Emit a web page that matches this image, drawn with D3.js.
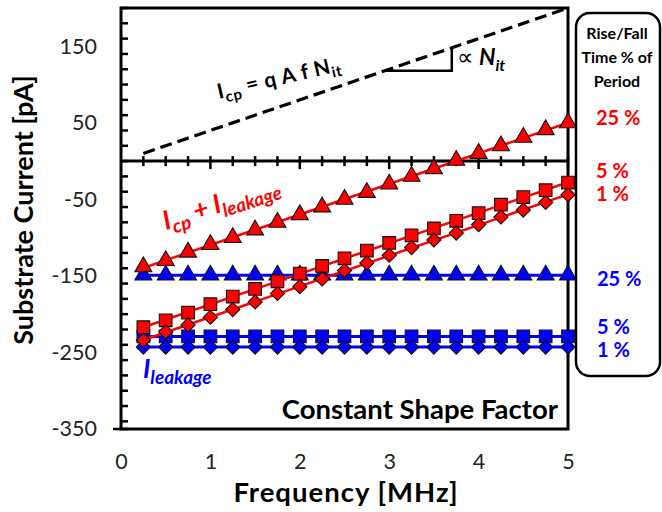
<!DOCTYPE html>
<html>
<head>
<meta charset="utf-8">
<script src="https://cdn.jsdelivr.net/npm/d3@7"></script>
<style>
  body { margin: 0; background: #fff; }
  svg { display: block; font-family: Lato, "Open Sans", sans-serif; }
</style>
</head>
<body>
<svg id="chart" width="662" height="512"></svg>
<script>
// frequencies in MHz
var freq = [0.25, 0.5, 0.75, 1, 1.25, 1.5, 1.75, 2, 2.25, 2.5, 2.75, 3, 3.25, 3.5, 3.75, 4, 4.25, 4.5, 4.75, 5];

// Icp + Ileakage (red), by rise/fall time % of period
var red25 = [-138, -130, -119, -109, -100, -90, -80, -70, -60, -50, -41, -30, -20, -10, 1, 10, 20, 31, 41, 50];
var red5 = [-217, -208, -198, -187, -177, -167, -157, -147, -137, -127, -117, -107, -97, -88, -78, -68, -57, -47, -38, -28];
var red1 = [-234, -223, -214, -204, -194, -184, -173, -164, -154, -143, -133, -123, -113, -103, -94, -83, -73, -64, -54, -44];

// Ileakage only (blue)
var blue25 = [-149, -149, -149, -149, -149, -149, -149, -149, -149, -149, -149, -149, -149, -149, -149, -149, -149, -149, -149, -149];
var blue5 = [-229, -229, -229, -229, -229, -229, -229, -229, -229, -229, -229, -229, -229, -229, -229, -229, -229, -229, -229, -229];
var blue1 = [-243, -243, -243, -243, -243, -243, -243, -243, -243, -243, -243, -243, -243, -243, -243, -243, -243, -243, -243, -243];

// ideal Icp line (dashed)
var icpFreq = [0.25, 5];
var icpVal = [10, 200];

var xTickLabels = [0, 1, 2, 3, 4, 5];
var yTickLabels = [150, 50, -50, -150, -250, -350];
var legendTitle = ["Rise/Fall", "Time % of", "Period"];
var legendRed = ["25 %", "5 %", "1 %"];
var legendBlue = ["25 %", "5 %", "1 %"];

var RED = "#ff0000", BLUE = "#0000ff";

var svg = d3.select("#chart");
var x = d3.scaleLinear().domain([0, 5]).range([121, 568]);
var y = d3.scaleLinear().domain([-350, 200]).range([429, 8]);

// frame
svg.append("rect")
  .attr("x", x(0)).attr("y", y(200))
  .attr("width", x(5) - x(0)).attr("height", y(-350) - y(200))
  .attr("fill", "none").attr("stroke", "#000").attr("stroke-width", 3);

// y tick marks, every 20 with majors on the labels
var yTicks = d3.range(-350, 200, 20).map(function(v) { return v + 10; }).concat([-350]);
svg.append("g").selectAll("line")
  .data(yTicks)
  .join("line")
    .attr("x1", function(d) { return yTickLabels.indexOf(d) >= 0 ? x(0) - 8 : x(0); })
    .attr("x2", x(0) + 7)
    .attr("y1", function(d) { return y(d); })
    .attr("y2", function(d) { return y(d); })
    .attr("stroke", "#000").attr("stroke-width", 2.5);

// zero line with ticks every 0.25 MHz
svg.append("line")
  .attr("x1", x(0)).attr("x2", x(5))
  .attr("y1", y(0)).attr("y2", y(0))
  .attr("stroke", "#000").attr("stroke-width", 3);
svg.append("g").selectAll("line")
  .data(freq)
  .join("line")
    .attr("x1", function(d) { return x(d); })
    .attr("x2", function(d) { return x(d); })
    .attr("y1", y(0) - 5)
    .attr("y2", function(d) { return d % 1 === 0 ? y(0) + 8 : y(0) + 5; })
    .attr("stroke", "#000").attr("stroke-width", 2.5);

// tick labels through d3 axes
var xAxis = svg.append("g")
  .attr("transform", "translate(0," + y(-350) + ")")
  .call(d3.axisBottom(x).tickValues(xTickLabels).tickSize(0).tickPadding(25)
    .tickFormat(function(d) { return String(d); }));
var yAxis = svg.append("g")
  .attr("transform", "translate(" + x(0) + ",0)")
  .call(d3.axisLeft(y).tickValues(yTickLabels).tickSize(0).tickPadding(24)
    .tickFormat(function(d) { return String(d); }));
[xAxis, yAxis].forEach(function(a) {
  a.select(".domain").remove();
  a.selectAll("text").attr("font-family", "Lato, sans-serif").attr("font-size", 21.5).attr("fill", "#222");
});

// axis titles
svg.append("text")
  .attr("x", 346).attr("y", 502)
  .attr("text-anchor", "middle")
  .attr("font-size", 27.5).attr("font-weight", "bold").attr("letter-spacing", 1)
  .text("Frequency [MHz]");
svg.append("text")
  .attr("transform", "translate(33,210) rotate(-90)")
  .attr("text-anchor", "middle")
  .attr("font-size", 27).attr("font-weight", "bold")
  .text("Substrate Current [pA]");

// dashed Icp line
svg.append("path")
  .datum(d3.zip(icpFreq, icpVal))
  .attr("d", d3.line().x(function(d) { return x(d[0]); }).y(function(d) { return y(d[1]); }))
  .attr("fill", "none").attr("stroke", "#000").attr("stroke-width", 3.2)
  .attr("stroke-dasharray", "12,6");

// slope triangle under the dashed line
var slopeX = [2.95, 3.7];
var icpAt = d3.scaleLinear().domain(icpFreq).range(icpVal);
svg.append("path")
  .attr("d", "M" + x(slopeX[0]) + "," + y(icpAt(slopeX[0])) +
    "H" + x(slopeX[1]) + "V" + y(icpAt(slopeX[1])))
  .attr("fill", "none").attr("stroke", "#000").attr("stroke-width", 2.5);

// series helpers
function fitLine(vals) {
  var mx = d3.mean(freq), my = d3.mean(vals);
  var num = d3.sum(freq, function(f, i) { return (f - mx) * (vals[i] - my); });
  var den = d3.sum(freq, function(f) { return (f - mx) * (f - mx); });
  var b = num / den, a = my - b * mx;
  var f0 = freq[0], f1 = freq[freq.length - 1];
  return [[f0, a + b * f0], [f1, a + b * f1]];
}

var shapes = {
  tri: { type: d3.symbolTriangle, size: 125, rot: 0 },
  sq: { type: d3.symbolSquare, size: 160, rot: 0 },
  dia: { type: d3.symbolSquare, size: 100, rot: 45 }
};

function drawSeries(vals, color, shape, lineWidth) {
  var g = svg.append("g");
  g.append("path")
    .datum(fitLine(vals))
    .attr("d", d3.line().x(function(d) { return x(d[0]); }).y(function(d) { return y(d[1]); }))
    .attr("fill", "none").attr("stroke", color).attr("stroke-width", lineWidth);
  var s = shapes[shape];
  g.selectAll("path.mk")
    .data(d3.zip(freq, vals))
    .join("path")
      .attr("class", "mk")
      .attr("transform", function(d) {
        return "translate(" + x(d[0]) + "," + y(d[1]) + ") rotate(" + s.rot + ")";
      })
      .attr("d", d3.symbol().type(s.type).size(s.size))
      .attr("fill", color).attr("stroke", "#111").attr("stroke-width", 1.1);
}

drawSeries(blue25, BLUE, "tri", 3);
drawSeries(blue5, BLUE, "sq", 3);
drawSeries(blue1, BLUE, "dia", 3);
drawSeries(red25, RED, "tri", 2.5);
drawSeries(red5, RED, "sq", 2.5);
drawSeries(red1, RED, "dia", 2.5);

// annotations
var eq = svg.append("text")
  .attr("transform", "translate(219,99) rotate(-13)")
  .attr("font-size", 21).attr("font-weight", "bold").attr("fill", "#000")
  .attr("letter-spacing", 0.6);
eq.append("tspan").text("I");
eq.append("tspan").attr("font-size", 15).attr("dy", 5).text("cp");
eq.append("tspan").attr("dy", -5).text(" = q A f N");
eq.append("tspan").attr("font-size", 15).attr("dy", 5).text("it");

var prop = svg.append("text")
  .attr("x", 457).attr("y", 65)
  .attr("font-size", 23).attr("fill", "#000");
prop.append("tspan").text("\u221d ");
prop.append("tspan").attr("font-weight", "bold").attr("font-style", "italic").text("N");
prop.append("tspan").attr("font-weight", "bold").attr("font-style", "italic")
  .attr("font-size", 16).attr("dy", 6).text("it");

var rl = svg.append("text")
  .attr("transform", "translate(166,230) rotate(-18)")
  .attr("font-size", 26).attr("font-weight", "bold").attr("font-style", "italic").attr("fill", RED);
rl.append("tspan").text("I");
rl.append("tspan").attr("font-size", 19).attr("dy", 6).text("cp");
rl.append("tspan").attr("dy", -6).text(" + I");
rl.append("tspan").attr("font-size", 19).attr("dy", 6).text("leakage");

var bl = svg.append("text")
  .attr("x", 143).attr("y", 378)
  .attr("font-size", 26).attr("font-weight", "bold").attr("font-style", "italic").attr("fill", BLUE);
bl.append("tspan").text("I");
bl.append("tspan").attr("font-size", 19).attr("dy", 6).text("leakage");

svg.append("text")
  .attr("x", 558).attr("y", 419)
  .attr("text-anchor", "end")
  .attr("font-size", 27.5).attr("font-weight", "bold")
  .text("Constant Shape Factor");

// legend box
var lg = svg.append("g");
lg.append("rect")
  .attr("x", 576).attr("y", 13).attr("width", 84).attr("height", 363).attr("rx", 14)
  .attr("fill", "#fff").attr("stroke", "#000").attr("stroke-width", 2.5);
lg.selectAll("text.title")
  .data(legendTitle)
  .join("text")
    .attr("class", "title")
    .attr("x", 617).attr("y", function(d, i) { return 39 + i * 24; })
    .attr("text-anchor", "middle")
    .attr("font-size", 16).attr("font-weight", "bold")
    .text(function(d) { return d; });
var redY = [125, 178, 201], blueY = [286, 334, 357];
lg.selectAll("text.red")
  .data(legendRed)
  .join("text")
    .attr("class", "red")
    .attr("x", 596).attr("y", function(d, i) { return redY[i]; })
    .attr("font-size", 20).attr("font-weight", "bold").attr("fill", RED)
    .text(function(d) { return d; });
lg.selectAll("text.blue")
  .data(legendBlue)
  .join("text")
    .attr("class", "blue")
    .attr("x", 597).attr("y", function(d, i) { return blueY[i]; })
    .attr("font-size", 20).attr("font-weight", "bold").attr("fill", BLUE)
    .text(function(d) { return d; });
</script>
</body>
</html>
